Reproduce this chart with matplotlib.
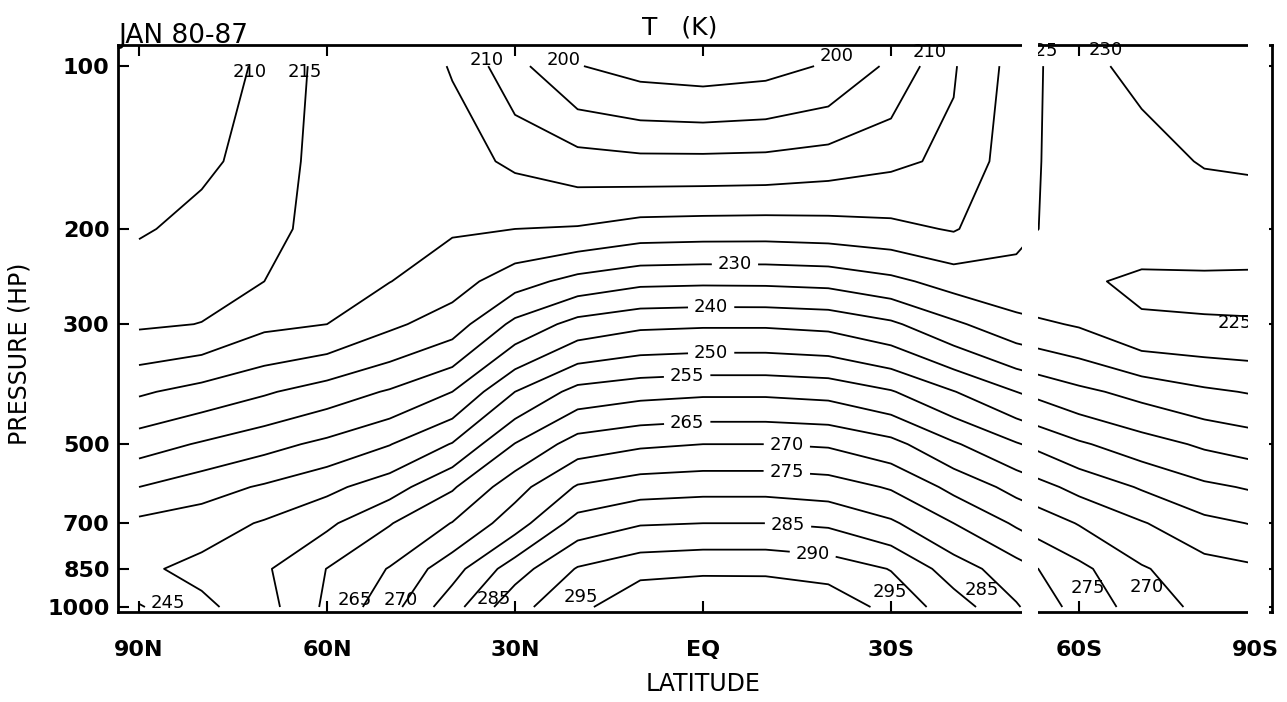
import numpy as np
import matplotlib
matplotlib.use("Agg")
import matplotlib.pyplot as plt
import matplotlib.transforms as mtrans
from matplotlib.patches import Rectangle
from matplotlib.ticker import NullLocator

# latitude (N +, S -) and pressure levels (hPa)
lats = [90, 80, 70, 60, 50, 40, 30, 20, 10, 0, -10, -20, -30, -40, -50, -60, -70, -80, -90]
plevs = [100, 150, 200, 250, 300, 400, 500, 600, 700, 850, 1000]

# JAN 80-87 zonal mean temperature (K), one row per level, 90N -> 90S
t100 = [206, 208.5, 210.5, 217, 218, 214.7, 206.5, 200.2, 198.2, 197.5, 198.3, 200.5, 206, 214.6, 222, 229, 231, 233, 234]
t150 = [207.5, 209.2, 211.5, 217.5, 218.5, 217, 214.1, 212.1, 211.3, 211.3, 211.5, 212.5, 214, 216, 223, 228, 228.5, 230.3, 230.8]
t200 = [209.5, 211.3, 212.5, 218, 219, 219.5, 220, 220.4, 222.1, 222.4, 222.5, 222.1, 221.3, 219.6, 224, 226.8, 226.5, 227.1, 227.1]
t250 = [212.3, 213.4, 215, 218.5, 219.9, 222.8, 227.9, 231.7, 233.8, 234.1, 234, 233.5, 231.3, 227.9, 226.2, 225.4, 224.5, 224.4, 224.3]
t300 = [214.3, 215.1, 218.9, 220, 224, 227.5, 236.3, 241.8, 243.9, 244.3, 244.3, 243.6, 240.9, 235.9, 231.6, 229.5, 225.3, 225.2, 225.15]
t400 = [224.3, 226.8, 229.4, 232.3, 235.5, 240, 250, 256.7, 258.3, 259, 259, 258.3, 255.4, 250.2, 245, 241.2, 238.3, 235.8, 234.3]
t500 = [232.7, 235.5, 238.3, 241.2, 244.8, 250.3, 260.2, 267.3, 269.2, 270, 270, 269.4, 266.6, 260.6, 255.4, 250.7, 247.2, 244.2, 242.1]
t600 = [240, 242.9, 245.6, 248.7, 252.7, 259.4, 268.1, 275.5, 277.7, 278.3, 278.3, 277.4, 274.5, 268.6, 263.3, 258.5, 254.5, 251, 249]
t700 = [246.2, 247.6, 250.5, 254, 259.7, 265.2, 272.7, 282, 284.6, 285, 285, 284.2, 280.8, 275, 269.3, 264.7, 260.4, 256.3, 254.3]
t850 = [249, 251.5, 254.3, 260.1, 265.3, 273, 282.7, 290.4, 293.3, 294, 294, 292.8, 289.8, 282.5, 277, 271.3, 265.5, 262, 260.4]
t1000 = [244.6, 248.8, 253, 261, 268, 278, 288.5, 293.5, 299.3, 299.8, 299.5, 298.5, 293.3, 287.5, 280.5, 273, 268, 263.5, 262]

contour_levels = list(range(200, 305, 5))

# axis ticks
yticks = [100, 200, 300, 500, 700, 850, 1000]
xticks = [90, 60, 30, 0, -30, -60, -90]
xticklabels = ["90N", "60N", "30N", "EQ", "30S", "60S", "90S"]

# labels drawn inside the lines (lat, hPa)  -> 230 240 250 255 265 270 275 285 290
inline_lat = [-5.1, -1.3, -1.3, 2.55, 2.55, -13.4, -13.4, -13.6, -17.6]
inline_p = [230.4, 276.7, 335, 369.5, 449.3, 497.6, 558, 696.5, 778]

# labels at the ends of the lines (top / bottom / right edge)
end_text = ["210", "215", "210", "200", "200", "210", "225", "230",
            "245", "265", "270", "285", "295", "295", "285", "275", "270", "225"]
end_lat = [72.3, 63.5, 34.5, 22.3, -21.4, -36.2, -53.9, -64.3,
           85.4, 55.5, 48.3, 33.3, 19.5, -29.8, -44.5, -61.4, -70.8, -84.9]
end_p = [102.6, 102.6, 97.5, 97.5, 95.9, 94.3, 93.9, 93.5,
         983, 970, 970, 966, 958, 938, 930, 922, 918, 298.6]

temp = np.array([t100, t150, t200, t250, t300, t400, t500, t600, t700, t850, t1000])

fig = plt.figure(figsize=(12.87, 7.02), dpi=100)
ax = fig.add_axes([118 / 1287, 1 - 612 / 702, 1154 / 1287, 567 / 702])

cs = ax.contour(lats, plevs, temp, levels=contour_levels, colors="black", linewidths=1.3)

ax.set_yscale("log")
ax.set_xlim(93.35, -90.8)
ax.set_ylim(1021.5, 91.4)

lbls = ax.clabel(cs, manual=list(zip(inline_lat, inline_p)),
                 inline=True, inline_spacing=6, fmt="%d", fontsize=13)
for t in lbls:
    t.set_rotation(0)

for txt, la, pp in zip(end_text, end_lat, end_p):
    ax.text(la, pp, txt, ha="center", va="center", fontsize=13, zorder=3)

ax.set_yticks(yticks)
ax.set_yticklabels([str(v) for v in yticks])
ax.yaxis.set_minor_locator(NullLocator())
ax.set_xticks(xticks)
ax.set_xticklabels(xticklabels)
ax.tick_params(axis="both", which="major", direction="in", length=8, width=1.5,
               top=True, right=True, labelsize=16)
ax.tick_params(axis="x", pad=20)
ax.tick_params(axis="y", pad=6)
for lb in ax.get_xticklabels() + ax.get_yticklabels():
    lb.set_fontweight("bold")
# keep the 90S label inside the page
last = ax.get_xticklabels()[-1]
last.set_transform(last.get_transform() + mtrans.ScaledTranslation(-12 / 100, 0, fig.dpi_scale_trans))
for sp in ax.spines.values():
    sp.set_linewidth(2)

# white strips where the scanned page is blank
for x0, x1 in [(-53.5, -50.9), (-90.3, -87.0)]:
    ax.add_patch(Rectangle((x0, -0.03), x1 - x0, 1.06, transform=ax.get_xaxis_transform(),
                           facecolor="white", edgecolor="none", zorder=5, clip_on=False))

fig.text(118 / 1287, 1 - 43 / 702, "JAN 80-87", fontsize=19, ha="left", va="baseline")
fig.text(680 / 1287, 1 - 35 / 702, "T   (K)", fontsize=18, ha="center", va="baseline")
fig.text(703 / 1287, 1 - 684 / 702, "LATITUDE", fontsize=17, ha="center", va="center")
fig.text(20 / 1287, 1 - 354 / 702, "PRESSURE (HP)", fontsize=17, ha="center", va="center",
         rotation=90)

fig.savefig("out.png", dpi=100)
